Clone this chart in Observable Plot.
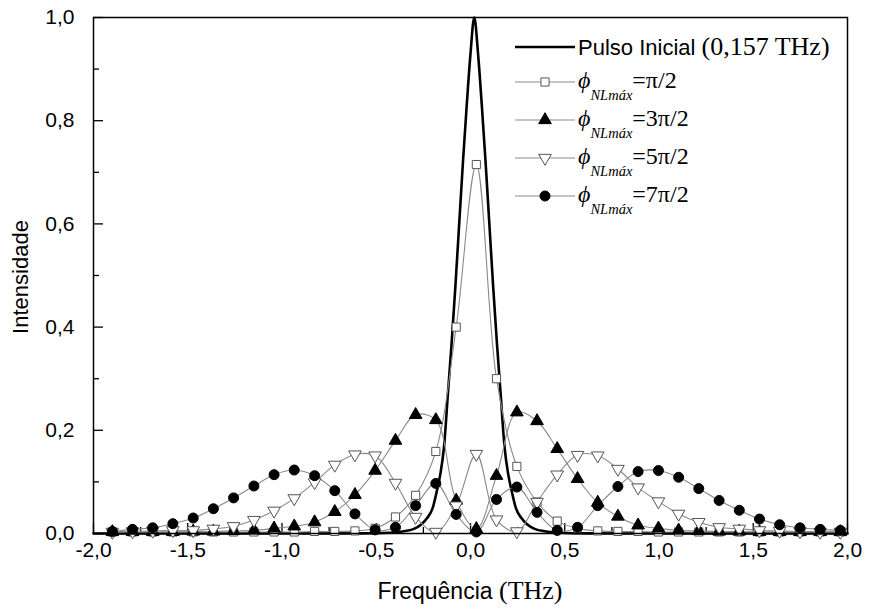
<!DOCTYPE html>
<html><head><meta charset="utf-8">
<script src="https://cdn.jsdelivr.net/npm/d3@7"></script>
<script src="https://cdn.jsdelivr.net/npm/@observablehq/plot@0.6"></script>
<style>
body{margin:0;background:#fff;}
#wrap{position:relative;width:870px;height:612px;font-family:"Liberation Sans",Arial,sans-serif;color:#000;}
#wrap > svg{position:absolute;left:0;top:0;}
.abs{position:absolute;white-space:nowrap;}
.serif{font-family:"Liberation Serif","Times New Roman",serif;}
.row{position:absolute;left:513px;height:30px;display:flex;align-items:center;white-space:nowrap;}
.row svg{flex:none;}
</style></head>
<body><div id="wrap"></div>
<script>
// ---- data ----
const freq = [-1.900,-1.793,-1.686,-1.579,-1.471,-1.364,-1.257,-1.149,-1.042,-0.935,-0.827,-0.720,-0.613,-0.506,-0.398,-0.291,-0.184,-0.076,0.031,0.138,0.246,0.353,0.460,0.568,0.675,0.782,0.889,0.997,1.104,1.211,1.319,1.426,1.533,1.640,1.748,1.855,1.962];
const phi1 = [0.003,0.003,0.003,0.003,0.003,0.003,0.003,0.003,0.003,0.003,0.004,0.004,0.005,0.010,0.032,0.074,0.159,0.400,0.715,0.300,0.130,0.061,0.024,0.010,0.005,0.004,0.004,0.003,0.003,0.003,0.003,0.003,0.003,0.003,0.003,0.003,0.003];
const phi3 = [0.003,0.003,0.003,0.003,0.004,0.004,0.005,0.006,0.010,0.014,0.022,0.042,0.075,0.122,0.180,0.230,0.220,0.064,0.009,0.112,0.235,0.218,0.164,0.106,0.060,0.033,0.016,0.010,0.006,0.005,0.004,0.004,0.003,0.003,0.003,0.003,0.003];
const phi5 = [0.003,0.004,0.005,0.006,0.006,0.009,0.014,0.026,0.044,0.068,0.099,0.133,0.153,0.151,0.098,0.032,0.003,0.054,0.154,0.027,0.004,0.061,0.114,0.152,0.151,0.125,0.089,0.062,0.038,0.022,0.012,0.009,0.006,0.005,0.004,0.003,0.003];
const phi7 = [0.004,0.008,0.011,0.019,0.030,0.048,0.069,0.092,0.114,0.123,0.112,0.083,0.038,0.007,0.012,0.054,0.097,0.037,0.003,0.066,0.090,0.041,0.006,0.012,0.054,0.091,0.120,0.122,0.109,0.087,0.064,0.045,0.028,0.017,0.011,0.008,0.006];
const pulseFreq = [-2.00,-0.98,-0.58,-0.43,-0.36,-0.30,-0.26,-0.23,-0.20,-0.18,-0.16,-0.14,-0.12,-0.10,-0.08,-0.06,-0.04,-0.02,0.00,0.02,0.04,0.06,0.08,0.10,0.12,0.14,0.16,0.18,0.20,0.22,0.24,0.27,0.30,0.34,0.40,0.47,0.62,1.02,2.00];
const pulseInt = [0,0,0.0003,0.0015,0.004,0.009,0.018,0.03,0.05,0.08,0.115,0.17,0.27,0.37,0.48,0.60,0.72,0.83,0.93,1.0,0.93,0.83,0.72,0.60,0.48,0.37,0.27,0.17,0.115,0.08,0.05,0.03,0.018,0.009,0.004,0.0015,0.0003,0,0];
const xMajor = [-2,-1.5,-1,-0.5,0,0.5,1,1.5,2];
const xMinor = [-1.75,-1.25,-0.75,-0.25,0.25,0.75,1.25,1.75];
const yMajor = [0,0.2,0.4,0.6,0.8,1.0];
const yMinor = [0.1,0.3,0.5,0.7,0.9];
const seriesNames = ["π/2","3π/2","5π/2","7π/2"];
const pulseName = "Pulso Inicial";
const pulseNote = "(0,157 THz)";
const xTitle = "Frequência";
const xUnit = "(THz)";
const yTitle = "Intensidade";

// ---- build ----
const W = 870, H = 612, mL = 93, mR = 23, mT = 17, mB = 79;
const iW = W - mL - mR, iH = H - mT - mB;
const fmt = d => d.toFixed(1).replace(".", ",");
const triDown = {draw(ctx, size){const y = -Math.sqrt(size/(Math.sqrt(3)*3)); ctx.moveTo(0,-2*y); ctx.lineTo(-Math.sqrt(3)*y, y); ctx.lineTo(Math.sqrt(3)*y, y); ctx.closePath();}};
const seriesDefs = [
  {vals: phi1, symbol: "square", fill: "#fff", r: 4.6},
  {vals: phi3, symbol: "triangle", fill: "#000", r: 4.7},
  {vals: phi5, symbol: triDown, fill: "#fff", r: 4.7},
  {vals: phi7, symbol: "circle", fill: "#000", r: 5}
];
const pulse = pulseFreq.map((f,i)=>({f, v: pulseInt[i]}));
const sData = seriesDefs.map(s => freq.map((f,i)=>({f, v: s.vals[i]})));

const marks = [
  Plot.tickY(yMajor, {y: d=>d, insetRight: iW - 10, stroke: "#000", strokeWidth: 1.3}),
  Plot.tickY(yMinor, {y: d=>d, insetRight: iW - 6, stroke: "#000", strokeWidth: 1.3}),
  Plot.tickX(xMajor, {x: d=>d, insetTop: iH - 10, stroke: "#000", strokeWidth: 1.3}),
  Plot.tickX(xMinor, {x: d=>d, insetTop: iH - 6, stroke: "#000", strokeWidth: 1.3}),
  Plot.axisY({ticks: yMajor, tickSize: 0, tickPadding: 19, tickFormat: fmt, label: null}),
  Plot.axisX({ticks: xMajor, tickSize: 0, tickPadding: 9, tickFormat: fmt, label: null}),
  Plot.line(pulse, {x: "f", y: "v", stroke: "#000", strokeWidth: 2.6, curve: "monotone-x"})
];
sData.forEach(d => marks.push(Plot.line(d, {x: "f", y: "v", stroke: "#8a8a8a", strokeWidth: 1.1, curve: "catmull-rom"})));
sData.forEach((d,j) => {
  const s = seriesDefs[j];
  marks.push(Plot.dot(d, {x: "f", y: "v", symbol: () => s.symbol, r: s.r, fill: s.fill, stroke: s.fill === "#fff" ? "#555" : "#000", strokeWidth: 1}));
});
marks.push(Plot.frame({stroke: "#000", strokeWidth: 1.5}));

const chart = Plot.plot({
  width: W, height: H, marginLeft: mL, marginRight: mR, marginTop: mT, marginBottom: mB,
  x: {domain: [-2, 2]}, y: {domain: [0, 1]},
  symbol: {type: "identity"},
  style: {fontSize: "21px", fontFamily: "'Liberation Sans', Arial, sans-serif", color: "#000", background: "#fff"},
  marks
});
const wrap = document.getElementById("wrap");
wrap.appendChild(chart);

// axis titles
const xt = document.createElement("div");
xt.className = "abs";
xt.style.cssText = "left:0;width:" + (2*(mL + iW/2)) + "px;top:576px;text-align:center;font-size:23px;";
xt.innerHTML = xTitle + ' <span class="serif" style="font-size:26px">' + xUnit + '</span>';
wrap.appendChild(xt);
const yt = document.createElement("div");
yt.className = "abs";
yt.style.cssText = "left:21px;top:" + (mT + iH/2 + 2) + "px;font-size:22px;transform:translate(-50%,-50%) rotate(-90deg);";
yt.textContent = yTitle;
wrap.appendChild(yt);

// legend
function sampleSvg(kind, j){
  const svg = d3.create("svg").attr("width", 65).attr("height", 30);
  if (kind === "pulse") {
    svg.append("line").attr("x1", 2).attr("x2", 62).attr("y1", 15).attr("y2", 15).attr("stroke", "#000").attr("stroke-width", 2.6);
  } else {
    const s = seriesDefs[j];
    svg.append("line").attr("x1", 2).attr("x2", 62).attr("y1", 15).attr("y2", 15).attr("stroke", "#8a8a8a").attr("stroke-width", 1.1);
    const sym = s.symbol === "square" ? d3.symbolSquare : s.symbol === "triangle" ? d3.symbolTriangle : s.symbol === "circle" ? d3.symbolCircle : s.symbol;
    svg.append("path").attr("transform", "translate(32,15)").attr("d", d3.symbol(sym, Math.PI*s.r*s.r)()).attr("fill", s.fill).attr("stroke", s.fill === "#fff" ? "#555" : "#000");
  }
  return svg.node();
}
const rowsY = [47, 82, 120, 158, 196];
const r0 = document.createElement("div");
r0.className = "row"; r0.style.top = (rowsY[0]-15) + "px";
r0.appendChild(sampleSvg("pulse"));
const t0 = document.createElement("span");
t0.style.cssText = "font-size:22px;margin-left:0px;";
t0.innerHTML = pulseName + ' <span class="serif" style="font-size:26px">' + pulseNote + '</span>';
r0.appendChild(t0);
wrap.appendChild(r0);
seriesNames.forEach((nm, j) => {
  const r = document.createElement("div");
  r.className = "row"; r.style.top = (rowsY[j+1]-15) + "px";
  r.appendChild(sampleSvg("s", j));
  const t = document.createElement("span");
  t.className = "serif";
  t.style.cssText = "font-size:24px;position:relative;top:-2px;";
  t.innerHTML = '<i>ϕ</i><i style="font-size:14.5px;position:relative;top:12px;">NLmáx</i>=' + nm;
  r.appendChild(t);
  wrap.appendChild(r);
});
</script>
</body></html>
